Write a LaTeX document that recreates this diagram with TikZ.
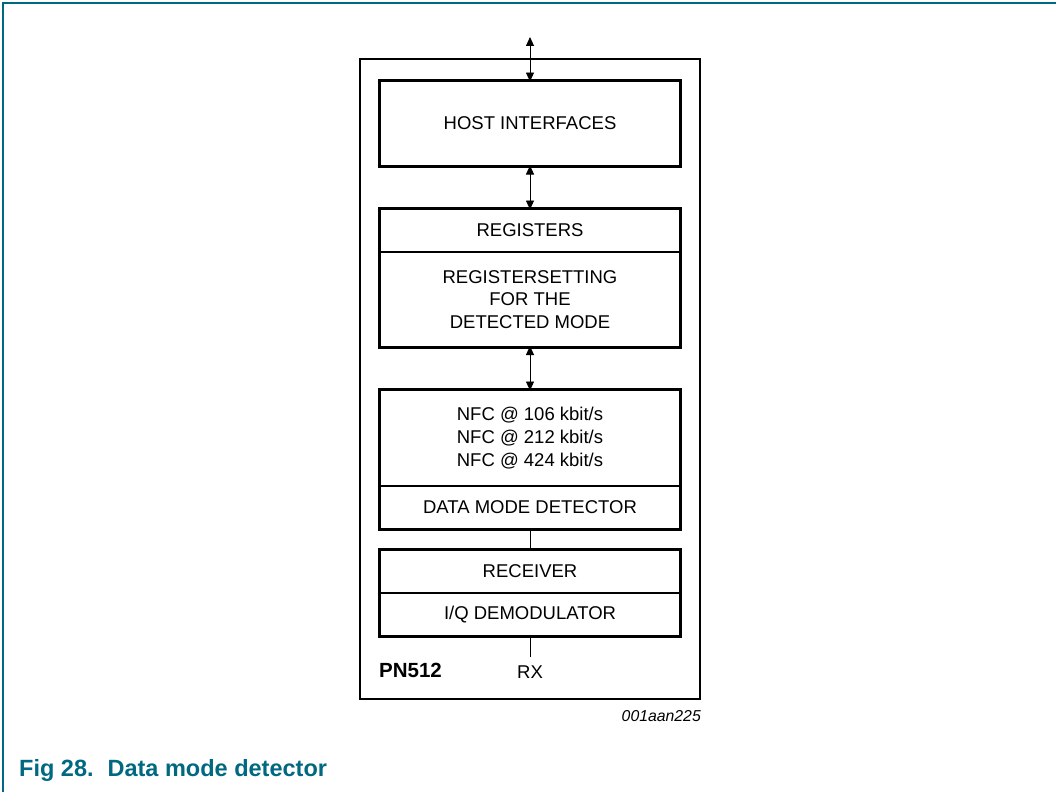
\documentclass[tikz,border=0pt]{standalone}
\usepackage{fontspec}
\setmainfont{Liberation Sans}
\usetikzlibrary{arrows.meta}
\definecolor{nxpteal}{RGB}{0,104,128}
\tikzset{
  sect/.style={draw, line width=1.6pt, minimum width=300pt, inner sep=0pt, align=center,
    font=\fontsize{18.5}{22.6}\selectfont},
  grp/.style={draw, line width=2.7pt},
  conn/.style={line width=0.9pt},
  biarrow/.style={conn, {Triangle[length=9pt,width=8pt]}-{Triangle[length=9pt,width=8pt]}},
}
\begin{document}
\begin{tikzpicture}[x=1pt,y=-1pt]
\useasboundingbox (0,0) rectangle (1056,792);
% teal frame
\draw[nxpteal, line width=1.5pt] (3,792) -- (3,3) -- (1056,3);
% chip outline
\node[draw, line width=2pt, minimum width=340pt, minimum height=640pt, inner sep=0pt] (chip) at (530,379) {};
% blocks
\node[sect, minimum height=85pt] (host) at (530,123.5) {HOST INTERFACES};
\draw[grp] (host.north west) rectangle (host.south east);
\node[sect, minimum height=43pt] (reg) at (530,230.5) {REGISTERS};
\node[sect, minimum height=94pt] (set) at (530,299.5) {REGISTERSETTING\\FOR THE\\DETECTED MODE};
\draw[grp] (reg.north west) rectangle (set.south east);
\node[sect, minimum height=96pt] (nfc) at (530,438) {NFC @ 106 kbit/s\\NFC @ 212 kbit/s\\NFC @ 424 kbit/s};
\node[sect, minimum height=43pt] (dmd) at (530,507.5) {DATA MODE DETECTOR};
\draw[grp] (nfc.north west) rectangle (dmd.south east);
\node[sect, minimum height=43pt] (rcv) at (530,571.5) {RECEIVER};
\node[sect, minimum height=43pt] (iq) at (530,614.5) {I/Q DEMODULATOR};
\draw[grp] (rcv.north west) rectangle (iq.south east);
% connectors
\coordinate (top) at (530,37);
\coordinate (rxend) at (530,657);
\draw[biarrow] (top) -- ([yshift=-1.3pt]host.north);
\draw[biarrow] ([yshift=1.3pt]host.south) -- ([yshift=-1.3pt]reg.north);
\draw[biarrow] ([yshift=1.3pt]set.south) -- ([yshift=-1.3pt]nfc.north);
\draw[conn] (dmd.south) -- (rcv.north);
\draw[conn] (iq.south) -- (rxend);
% labels
\node[inner sep=0pt, anchor=base west, font=\bfseries\fontsize{20.5}{24}\selectfont] (pn) at (379,677) {PN512};
\node[inner sep=0pt, anchor=base, font=\fontsize{18.5}{22}\selectfont] (rx) at (530,678) {RX};
\node[inner sep=0pt, anchor=base east, font=\itshape\fontsize{15.8}{19}\selectfont] (code) at (701,721) {001aan225};
\node[inner sep=0pt, anchor=base west, text=nxpteal, font=\bfseries\fontsize{23.5}{28}\selectfont] (cap) at (19,776) {Fig 28.\hspace{14pt}Data mode detector};
\end{tikzpicture}
\end{document}
